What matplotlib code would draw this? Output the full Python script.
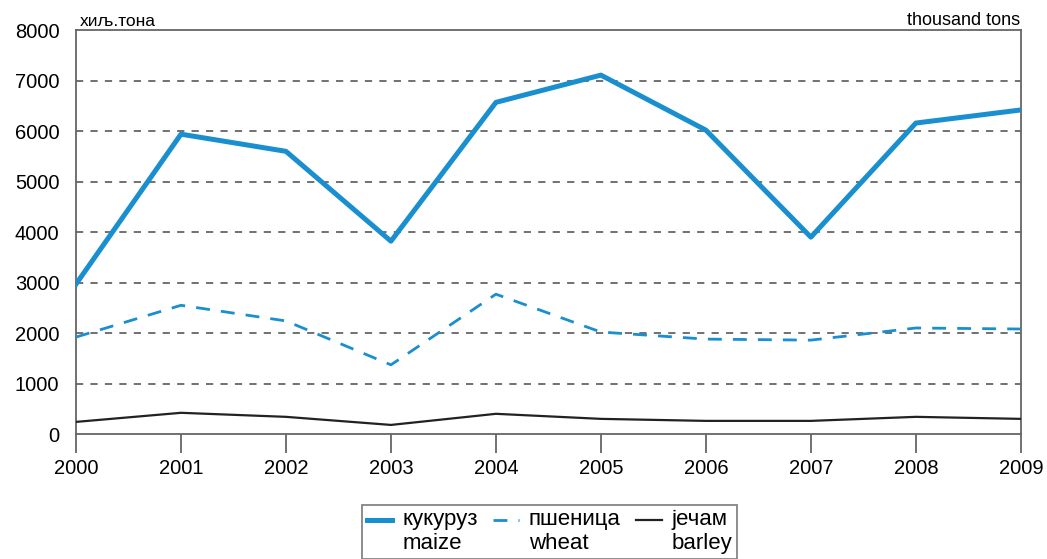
import numpy as np
import matplotlib.pyplot as plt
from matplotlib.legend_handler import HandlerLine2D

years = [2000, 2001, 2002, 2003, 2004, 2005, 2006, 2007, 2008, 2009]
maize = [2970, 5940, 5600, 3820, 6570, 7110, 6020, 3900, 6160, 6420]
wheat = [1920, 2550, 2240, 1370, 2770, 2020, 1880, 1860, 2100, 2080]
barley = [240, 420, 340, 180, 400, 300, 260, 260, 340, 300]
labels = ["кукуруз\nmaize", "пшеница\nwheat", "јечам\nbarley"]

plt.rcParams['font.family'] = ['Liberation Sans', 'DejaVu Sans']


# legend handle sits next to the first text line, not in the middle
class TopLine(HandlerLine2D):
    def create_artists(self, legend, orig_handle, xdescent, ydescent,
                       width, height, fontsize, trans):
        return super().create_artists(legend, orig_handle, xdescent,
                                      ydescent - 1.1 * fontsize, width, height,
                                      fontsize, trans)


fig = plt.figure(figsize=(10.47, 5.59), dpi=100)
ax = fig.add_axes([0.0726, 0.2236, 0.9024, 0.7224])

blue = "#1a8fd0"
l1, = ax.plot(years, maize, color=blue, lw=3.6, label=labels[0], zorder=3)
l2, = ax.plot(years, wheat, color=blue, lw=2, ls=(0, (5, 4)), label=labels[1], zorder=3)
l3, = ax.plot(years, barley, color="#222222", lw=1.6, label=labels[2], zorder=3)

ax.set_xlim(2000, 2009)
ax.set_ylim(0, 8000)
ax.set_xticks(years)
ax.set_yticks(np.arange(0, 8001, 1000))
for v in range(1000, 8000, 1000):
    ax.axhline(v, color="#666666", lw=1.3, ls=(0, (4, 4)), zorder=1)

for s in ax.spines.values():
    s.set_color("#666666")
    s.set_linewidth(1.3)

ax.tick_params(axis='x', direction='out', length=14, width=1.3, color="#666666",
               labelsize=14.5, pad=4)
ax.tick_params(axis='y', length=0, labelsize=14.5, pad=12)

ax.text(0.004, 1.003, "хиљ.тона", transform=ax.transAxes, fontsize=12.5,
        ha='left', va='bottom')
ax.text(0.999, 1.003, "thousand tons", transform=ax.transAxes, fontsize=13,
        ha='right', va='bottom')

handler = TopLine()
leg = fig.legend(loc='upper center', bbox_to_anchor=(0.525, 0.097), ncol=3,
                 fontsize=16, frameon=True, fancybox=False, handlelength=1.15,
                 columnspacing=0.7, handletextpad=0.45, borderpad=0.2,
                 labelspacing=0.1, borderaxespad=0,
                 handler_map={l1: handler, l2: handler, l3: handler})
leg.get_frame().set_edgecolor("#666666")
leg.get_frame().set_linewidth(1.3)

fig.savefig("out.png", dpi=100)
